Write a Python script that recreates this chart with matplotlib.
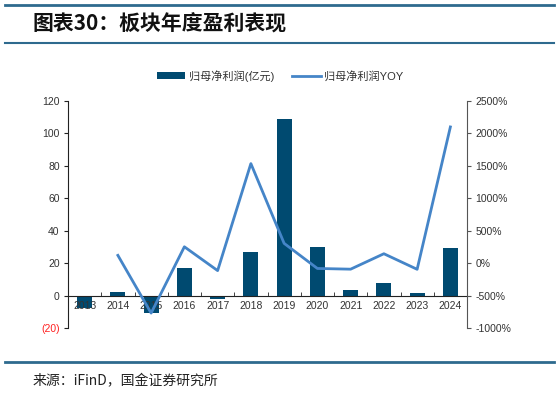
import matplotlib.pyplot as plt
from matplotlib.patches import Patch
from matplotlib.lines import Line2D
import numpy as np

plt.rcParams['font.family'] = ['Liberation Sans', 'Noto Sans CJK SC', 'DejaVu Sans']

years = ['2013', '2014', '2015', '2016', '2017', '2018', '2019', '2020', '2021', '2022', '2023', '2024']
profit = [-7.5, 2, -11, 17, -2.4, 27, 109, 30, 3.4, 7.5, 1.3, 29.5]
yoy = [np.nan, 120, -770, 252, -115, 1535, 305, -82, -93, 145, -95, 2100]

bar_color = '#004A70'
line_color = '#4585C8'
rule_color = '#2E6A8E'

fig = plt.figure(figsize=(5.59, 3.93), dpi=100)

# header / footer rules
fig.add_artist(Line2D([5 / 559, 554 / 559], [1 - 5 / 393] * 2, color=rule_color, lw=2))
fig.add_artist(Line2D([5 / 559, 554 / 559], [1 - 43 / 393] * 2, color=rule_color, lw=1.5))
fig.add_artist(Line2D([5 / 559, 554 / 559], [1 - 362 / 393] * 2, color=rule_color, lw=2))
fig.text(33 / 559, 1 - 24 / 393, '图表30：板块年度盈利表现', fontsize=15, fontweight='bold',
         va='center', ha='left', color='#111111', family=['Noto Sans CJK SC'])
fig.text(33 / 559, 1 - 381 / 393, '来源：iFinD，国金证券研究所', fontsize=10, va='center', ha='left',
         color='#222222', family=['Noto Sans CJK SC'])

ax = fig.add_axes([68 / 559, 1 - 328 / 393, 399 / 559, 227 / 393])
x = np.arange(len(years))
ax.bar(x, profit, width=0.45, color=bar_color, zorder=1)
ax.set_xlim(-0.5, len(years) - 0.5)
ax.set_ylim(-20, 120)
ax.set_yticks(range(-20, 121, 20))
ax.set_yticklabels(['(20)'] + [str(v) for v in range(0, 121, 20)], fontsize=7.5, color='#333333')
ax.get_yticklabels()[0].set_color('#FF2020')

ax.spines['top'].set_visible(False)
ax.spines['right'].set_visible(False)
ax.spines['left'].set_color('#222222')
ax.spines['bottom'].set_position(('data', 0))
ax.spines['bottom'].set_color('#222222')
ax.set_xticks(x)
ax.set_xticklabels(years, fontsize=7.5, color='#333333')
ax.set_xticks(np.arange(0.5, len(years) - 0.5, 1), minor=True)
ax.tick_params(axis='x', which='major', length=0, pad=4)
ax.tick_params(axis='x', which='minor', direction='in', length=3, color='#222222')
ax.tick_params(axis='y', length=3, color='#222222', pad=3)

ax2 = ax.twinx()
ax2.plot(x, yoy, color=line_color, lw=2)
ax2.set_ylim(-1000, 2500)
ax2.set_yticks(range(-1000, 2501, 500))
ax2.set_yticklabels([f'{v}%' for v in range(-1000, 2501, 500)], fontsize=7.5, color='#333333')
for s in ['top', 'left', 'bottom']:
    ax2.spines[s].set_visible(False)
ax2.spines['right'].set_color('#555555')
ax2.tick_params(axis='y', length=3, color='#555555', pad=3)

handles = [Patch(facecolor=bar_color, label='归母净利润(亿元)'),
           Line2D([], [], color=line_color, lw=2, label='归母净利润YOY')]
fig.legend(handles=handles, loc='center', bbox_to_anchor=(280 / 559, 1 - 76 / 393), ncol=2,
           frameon=False, fontsize=8, handlelength=2.6, handleheight=0.6, columnspacing=1.6,
           handletextpad=0.3, labelcolor='#333333')

fig.savefig('out.png', dpi=100)
